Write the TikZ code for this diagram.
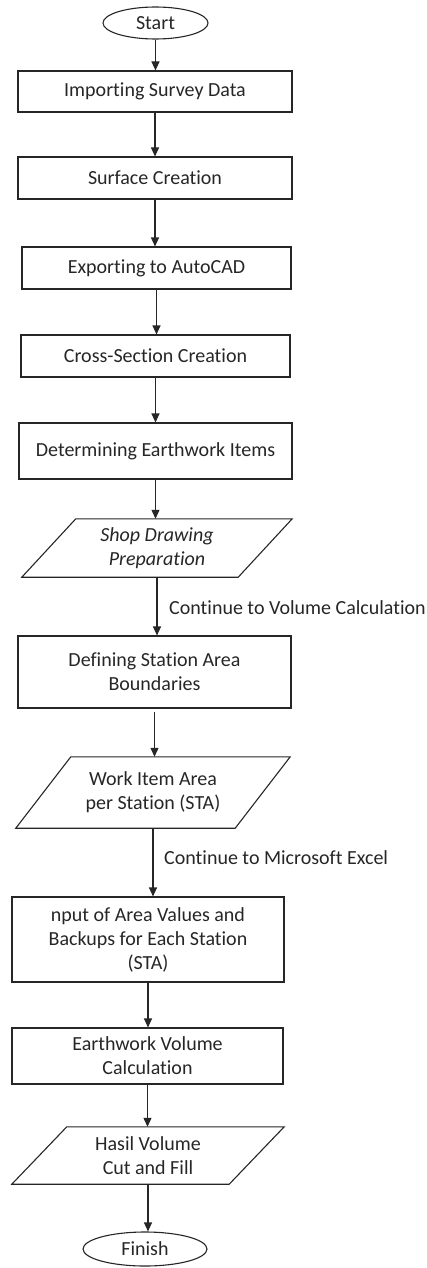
\documentclass[tikz,border=0pt]{standalone}
\usepackage{fontspec}
\setmainfont{Carlito}[Ligatures=NoCommon]
\usetikzlibrary{shapes.geometric,arrows.meta}
\definecolor{ink}{HTML}{262626}
\begin{document}
\begin{tikzpicture}[x=1pt,y=-1pt,
  every node/.style={font=\fontsize{20}{24}\selectfont, text=ink},
  box/.style={draw=ink, line width=1.1pt, rectangle, inner sep=0pt, align=center},
  io/.style={inner sep=0pt, align=center},
  shapeline/.style={draw=ink, line width=1.1pt, line join=miter},
  term/.style={draw=ink, line width=1.1pt, ellipse, inner sep=0pt},
  arr/.style={draw=ink, line width=1.1pt, -{Triangle[length=9pt,width=8pt]}},
  lbl/.style={anchor=base west, inner sep=0pt}]
\useasboundingbox (0,0) rectangle (427,1268);

\node[term, minimum width=105pt, minimum height=32pt] (start) at (155.5,23) {Start};
\node[box, minimum width=274pt, minimum height=41pt] (b1) at (155,91.5) {Importing Survey Data};
\node[box, minimum width=274pt, minimum height=42pt] (b2) at (155,178) {Surface Creation};
\node[box, minimum width=269pt, minimum height=42pt] (b3) at (156.5,268) {Exporting to AutoCAD};
\node[box, minimum width=269pt, minimum height=42pt] (b4) at (155.5,356) {Cross-Section Creation};
\node[box, minimum width=273pt, minimum height=56pt] (b5) at (155.5,451) {Determining Earthwork Items};
\node[io, minimum width=270pt, minimum height=58pt] (p1) at (157,548) {\itshape Shop Drawing\\\itshape Preparation};
\node[box, minimum width=273pt, minimum height=72pt] (b6) at (154.5,672) {Defining Station Area\\Boundaries};
\node[io, minimum width=274pt, minimum height=71pt] (p2) at (153,792.5) {Work Item Area\\per Station (STA)};
\node[box, minimum width=272pt, minimum height=85pt] (b7) at (148,939.5) {nput of Area Values and\\Backups for Each Station\\(STA)};
\node[box, minimum width=271pt, minimum height=56pt] (b8) at (147.5,1056) {Earthwork Volume\\Calculation};
\node[io, minimum width=272pt, minimum height=57pt] (p3) at (148,1155.5) {Hasil Volume\\Cut and Fill};
\node[term, minimum width=124pt, minimum height=34pt] (finish) at (145,1249) {Finish};

\draw[shapeline] ([xshift=54pt]p1.north west) -- (p1.north east) -- ([xshift=-54pt]p1.south east) -- (p1.south west) -- cycle;
\draw[shapeline] ([xshift=55pt]p2.north west) -- (p2.north east) -- ([xshift=-55pt]p2.south east) -- (p2.south west) -- cycle;
\draw[shapeline] ([xshift=55pt]p3.north west) -- (p3.north east) -- ([xshift=-55pt]p3.south east) -- (p3.south west) -- cycle;

\draw[arr] (start.south) -- (start.south |- b1.north);
\draw[arr] (b1.south) -- (b1.south |- b2.north);
\draw[arr] (b2.south) -- (b2.south |- b3.north);
\draw[arr] (b3.south) -- (b3.south |- b4.north);
\draw[arr] (b4.south) -- (b4.south |- b5.north);
\draw[arr] (b5.south) -- (b5.south |- p1.north);
\draw[arr] (p1.south) -- (p1.south |- b6.north);
\draw[arr, shorten <=3pt] (b6.south) -- (b6.south |- p2.north);
\draw[arr] (p2.south) -- (p2.south |- b7.north);
\draw[arr] (b7.south) -- (b7.south |- b8.north);
\draw[arr] (b8.south) -- (b8.south |- p3.north);
\draw[arr] (p3.south) -- (p3.south |- finish.north);

\node[lbl] (l1) at (169,614) {Continue to Volume Calculation};
\node[lbl] (l2) at (164,864) {Continue to Microsoft Excel};
\end{tikzpicture}
\end{document}
